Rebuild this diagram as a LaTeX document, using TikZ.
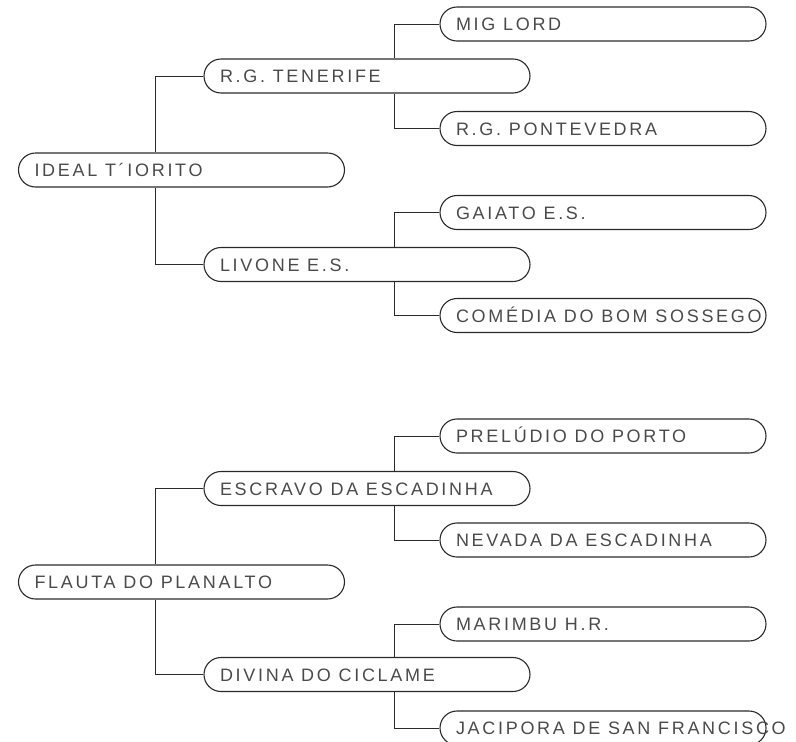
\documentclass[tikz,border=0pt]{standalone}
\usepackage{fontspec}
\newfontfamily\lbl[LetterSpace=15]{Liberation Sans}
\definecolor{linec}{HTML}{2A2A2A}
\definecolor{textc}{HTML}{4A4A4A}
\newcommand{\pt}[1]{\makebox[294pt][l]{#1}}
\tikzset{
  pill/.style={draw=linec, line width=1.1pt, rounded corners=17pt,
    minimum width=326pt, minimum height=34pt, inner xsep=16pt, inner ysep=0pt,
    text height=13pt, text depth=0pt, text=textc, font=\lbl\fontsize{18pt}{20pt}\selectfont},
  link/.style={draw=linec, line width=1pt}
}
\begin{document}
\begin{tikzpicture}[x=1pt,y=-1pt]
\useasboundingbox (0,0) rectangle (796,742);
% top tree
\node[pill] (a)   at (181.5,170)  {\pt{IDEAL T´IORITO}};
\node[pill] (as)  at (367,76)     {\pt{R.G. TENERIFE}};
\node[pill] (ad)  at (367,264.5)  {\pt{LIVONE E.S.}};
\node[pill] (ass) at (603,24)     {\pt{MIG LORD}};
\node[pill] (asd) at (603,128.5)  {\pt{R.G. PONTEVEDRA}};
\node[pill] (ads) at (603,212.5)  {\pt{GAIATO E.S.}};
\node[pill] (add) at (603,315.5)  {\pt{COMÉDIA DO BOM SOSSEGO}};
% bottom tree
\node[pill] (b)   at (181.5,582)  {\pt{FLAUTA DO PLANALTO}};
\node[pill] (bs)  at (367,488.5)  {\pt{ESCRAVO DA ESCADINHA}};
\node[pill] (bd)  at (367,674.5)  {\pt{DIVINA DO CICLAME}};
\node[pill] (bss) at (603,436)    {\pt{PRELÚDIO DO PORTO}};
\node[pill] (bsd) at (603,540)    {\pt{NEVADA DA ESCADINHA}};
\node[pill] (bds) at (603,624)    {\pt{MARIMBU H.R.}};
\node[pill] (bdd) at (603,728)    {\pt{JACIPORA DE SAN FRANCISCO}};
% connectors
\draw[link] ([xshift=-26.5pt]a.north) |- (as.west);
\draw[link] ([xshift=-26.5pt]a.south) |- (ad.west);
\draw[link] ([xshift=27pt]as.north) |- (ass.west);
\draw[link] ([xshift=27pt]as.south) |- (asd.west);
\draw[link] ([xshift=27pt]ad.north) |- (ads.west);
\draw[link] ([xshift=27pt]ad.south) |- (add.west);
\draw[link] ([xshift=-26.5pt]b.north) |- (bs.west);
\draw[link] ([xshift=-26.5pt]b.south) |- (bd.west);
\draw[link] ([xshift=27pt]bs.north) |- (bss.west);
\draw[link] ([xshift=27pt]bs.south) |- (bsd.west);
\draw[link] ([xshift=27pt]bd.north) |- (bds.west);
\draw[link] ([xshift=27pt]bd.south) |- (bdd.west);
\end{tikzpicture}
\end{document}
